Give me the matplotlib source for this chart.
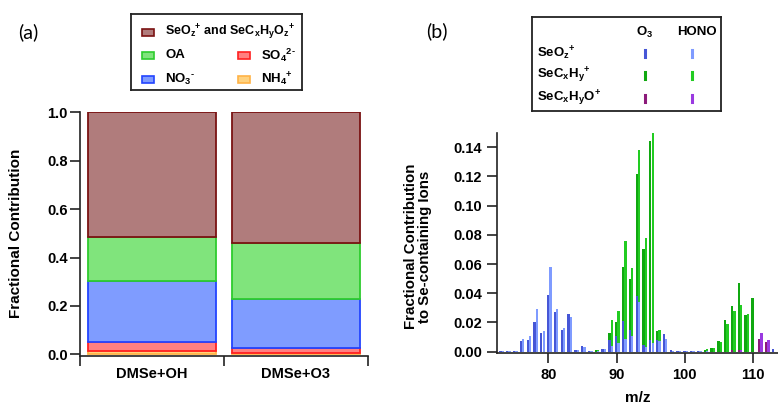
import numpy as np
import matplotlib
matplotlib.use("Agg")
import matplotlib.pyplot as plt
from matplotlib.patches import Rectangle
from matplotlib.lines import Line2D

plt.rcParams['font.family'] = ['Liberation Sans', 'DejaVu Sans']
plt.rcParams['font.weight'] = 'bold'
plt.rcParams['axes.labelweight'] = 'bold'
plt.rcParams['mathtext.fontset'] = 'custom'
plt.rcParams['mathtext.rm'] = 'Liberation Sans:bold'
plt.rcParams['mathtext.bf'] = 'Liberation Sans:bold'
plt.rcParams['mathtext.it'] = 'Liberation Sans:bold'
plt.rcParams['mathtext.default'] = 'bf'

# ---------------- Panel (a) data ----------------
categories = ["DMSe+OH", "DMSe+O3"]
nh4 = [0.015, 0.004]
so4 = [0.037, 0.022]
no3 = [0.251, 0.201]
oa = [0.182, 0.232]
se_org = [0.515, 0.541]

# ---------------- Panel (b) data ----------------
mz = list(range(73, 114))  # 73 ... 113
#            73      74      75      76     77     78     79     80     81     82     83     84      85     86      87     88      89     90     91     92     93     94      95     96     97     98     99      100     101     102     103  104  105  106  107  108  109  110  111  112  113
o3_seoz   = [0.0003, 0.0005, 0.0003, 0.007, 0.008, 0.020, 0.013, 0.039, 0.027, 0.015, 0.026, 0.0015, 0.004, 0.0003, 0.0,   0.0018, 0.008, 0.011, 0.021, 0.015, 0.038, 0.0045, 0.008, 0.008, 0.012, 0.001, 0.0003, 0.0003, 0.0003, 0.0003, 0.0, 0.0, 0.0, 0.0, 0.0, 0.0, 0.0, 0.0, 0.0, 0.0, 0.002]
o3_secxhy = [0.0,    0.0,    0.0,    0.0,   0.0,   0.0,   0.0,   0.0,   0.0,   0.0,   0.0,   0.0,    0.0,   0.0,    0.0015, 0.0,   0.005, 0.009, 0.037, 0.035, 0.084, 0.0655, 0.136, 0.006, 0.0,   0.0,   0.0,    0.0,    0.0,    0.0,    0.0015, 0.0025, 0.007, 0.022, 0.030, 0.0455, 0.025, 0.037, 0.0, 0.0, 0.0]
o3_secxhyo = [0.0,   0.0,    0.0,    0.0,   0.0,   0.0,   0.0,   0.0,   0.0,   0.0,   0.0,   0.0,    0.0,   0.0,    0.0,   0.0,    0.0,   0.0,   0.0,   0.0,   0.0,   0.0,    0.0,   0.0,   0.0,   0.0,   0.0,    0.0,    0.0,    0.0,    0.0, 0.0, 0.0, 0.0, 0.001, 0.0015, 0.0, 0.0, 0.0085, 0.0064, 0.0]
hono_seoz   = [0.0003, 0.0004, 0.0003, 0.009, 0.011, 0.029, 0.014, 0.058, 0.029, 0.016, 0.024, 0.0015, 0.003, 0.0003, 0.0003, 0.0018, 0.004, 0.006, 0.009, 0.011, 0.034, 0.003, 0.006, 0.007, 0.009, 0.0008, 0.0004, 0.0004, 0.0004, 0.0004, 0.0004, 0.0, 0.0, 0.0, 0.0, 0.0, 0.0, 0.0, 0.0, 0.0, 0.0]
hono_secxhy = [0.0,   0.0,    0.0,    0.0,   0.0,   0.0,   0.0,   0.0,   0.0,   0.0,   0.0,   0.0,    0.0,   0.0,    0.0012, 0.0,   0.018, 0.022, 0.067, 0.046, 0.104, 0.075, 0.144, 0.008, 0.0,   0.0,   0.0,    0.0,    0.0,    0.0,    0.0012, 0.0022, 0.0065, 0.019, 0.028, 0.031, 0.026, 0.0, 0.0, 0.0, 0.0]
hono_secxhyo = [0.0,  0.0,    0.0,    0.0,   0.0,   0.0,   0.0,   0.0,   0.0,   0.0,   0.0,   0.0,    0.0,   0.0,    0.0,   0.0,    0.0,   0.0,   0.0,   0.0,   0.0,   0.0,    0.0,   0.0,   0.0,   0.0,   0.0,    0.0,    0.0,    0.0,    0.0, 0.0, 0.0, 0.0, 0.0, 0.001, 0.0, 0.0, 0.013, 0.0082, 0.0]

# ---------------- colours ----------------
c_se_f, c_se_e = '#b07c7c', '#7a1212'
c_oa_f, c_oa_e = '#80e47c', '#2ecc2e'
c_no3_f, c_no3_e = '#7f9cff', '#2244ff'
c_so4_f, c_so4_e = '#ff8080', '#ff2020'
c_nh4_f, c_nh4_e = '#ffd27f', '#ffb347'

o3_cols = ['#4656d6', '#10a810', '#8c1a7a']
hono_cols = ['#7f9bff', '#22cc22', '#9a3ae0']

axis_col = '#222222'

fig = plt.figure(figsize=(7.78, 4.05), dpi=100)

# ================= Panel (a) =================
ax1 = fig.add_axes([80/778, 1-356/405, 288/778, (356-112.3)/405])
x = np.arange(len(categories))
w = 0.89
bottom = np.zeros(len(categories))
for vals, fc, ec in [(nh4, c_nh4_f, c_nh4_e), (so4, c_so4_f, c_so4_e),
                     (no3, c_no3_f, c_no3_e), (oa, c_oa_f, c_oa_e),
                     (se_org, c_se_f, c_se_e)]:
    ax1.bar(x, vals, w, bottom=bottom, facecolor=fc, edgecolor=ec, linewidth=1.3)
    bottom = bottom + np.array(vals)

ax1.set_xlim(-0.5, 1.5)
ax1.set_ylim(-0.007, 1.0)
ax1.set_yticks([0.0, 0.2, 0.4, 0.6, 0.8, 1.0])
ax1.set_yticklabels(['0.0', '0.2', '0.4', '0.6', '0.8', '1.0'])
ax1.set_xticks([-0.5, 0.5, 1.5])
ax1.set_xticklabels([])
ax1.set_xticks([0, 1], minor=True)
ax1.set_xticklabels(categories, minor=True)
ax1.tick_params(axis='x', which='minor', length=0, pad=8, labelsize=10.5)
ax1.tick_params(axis='both', which='major', direction='out', length=7, width=1.2,
                color=axis_col, labelsize=10.5, pad=2)
for s in ['top', 'right']:
    ax1.spines[s].set_visible(False)
for s in ['left', 'bottom']:
    ax1.spines[s].set_linewidth(1.2)
    ax1.spines[s].set_color(axis_col)
ax1.set_ylabel('Fractional Contribution', fontsize=11)
ax1.yaxis.set_label_coords((23-80)/288, 0.505)

# legend (a)
lg1 = fig.add_axes([131/778, 1-90/405, 171/778, 76/405])
lg1.set_xlim(0, 171); lg1.set_ylim(76, 0)
lg1.set_xticks([]); lg1.set_yticks([])
for s in lg1.spines.values():
    s.set_linewidth(1.3); s.set_color(axis_col)
lg_items = [
    (11, 18, c_se_f, c_se_e, r'SeO$_{z}$$^{+}$ and SeC$_{x}$H$_{y}$O$_{z}$$^{+}$', 9.0),
    (11, 41, c_oa_f, c_oa_e, 'OA', 9.5),
    (11, 65, c_no3_f, c_no3_e, r'NO$_{3}$$^{\text{-}}$', 9.5),
    (107, 41, c_so4_f, c_so4_e, r'SO$_{4}$$^{\text{2-}}$', 9.5),
    (107, 65, c_nh4_f, c_nh4_e, r'NH$_{4}$$^{+}$', 9.5),
]
for px, py, fc, ec, lab, fs in lg_items:
    lg1.add_patch(Rectangle((px, py-3.5), 12, 7, facecolor=fc, edgecolor=ec, linewidth=1.2))
    lg1.text(px+23, py, lab, fontsize=fs, va='center', ha='left')

# ================= Panel (b) =================
ax2 = fig.add_axes([496.7/778, 1-353.3/405, (778-496.7)/778, (353.3-132.7)/405])
m = np.array(mz, dtype=float)
bw = 0.34
for off, series, cols in [(-0.05, (o3_seoz, o3_secxhyo, o3_secxhy), o3_cols),
                          (0.30, (hono_seoz, hono_secxhyo, hono_secxhy), hono_cols)]:
    b = np.zeros(len(mz))
    for vals, col in zip(series, [cols[0], cols[2], cols[1]]):
        ax2.bar(m + off, vals, bw, bottom=b, color=col, linewidth=0)
        b = b + np.array(vals)

ax2.set_xlim(72.4, 113.7)
ax2.set_ylim(-0.0011, 0.150)
ax2.set_xticks([80, 90, 100, 110])
ax2.set_yticks([0.00, 0.02, 0.04, 0.06, 0.08, 0.10, 0.12, 0.14])
ax2.set_yticklabels(['0.00', '0.02', '0.04', '0.06', '0.08', '0.10', '0.12', '0.14'])
ax2.tick_params(axis='both', which='major', direction='out', length=7, width=1.2,
                color=axis_col, labelsize=10.5, pad=3.5)
for s in ['top', 'right']:
    ax2.spines[s].set_visible(False)
for s in ['left', 'bottom']:
    ax2.spines[s].set_linewidth(1.2)
    ax2.spines[s].set_color(axis_col)
ax2.set_ylabel('Fractional Contribution\nto Se-containing Ions', fontsize=10.8, linespacing=1.0)
ax2.yaxis.set_label_coords((432-496.7)/281.3, 0.483)
ax2.set_xlabel('m/z', fontsize=11)
ax2.xaxis.set_label_coords(0.5, (353.3-391)/220.6)

# legend (b)
lg2 = fig.add_axes([532/778, 1-111/405, 189/778, 94/405])
lg2.set_xlim(0, 189); lg2.set_ylim(94, 0)
lg2.set_xticks([]); lg2.set_yticks([])
for s in lg2.spines.values():
    s.set_linewidth(1.3); s.set_color(axis_col)
lg2.text(113, 15, r'O$_{3}$', fontsize=9.5, ha='center', va='center')
lg2.text(165, 15, 'HONO', fontsize=9.5, ha='center', va='center')
row_labels = [r'SeO$_{z}$$^{+}$', r'SeC$_{x}$H$_{y}$$^{+}$', r'SeC$_{x}$H$_{y}$O$^{+}$']
row_y = [36, 58, 81]
for i, (lab, yy) in enumerate(zip(row_labels, row_y)):
    lg2.text(5, yy, lab, fontsize=9.5, ha='left', va='center')
    lg2.add_line(Line2D([113, 113], [yy-3.5, yy+3.5], color=o3_cols[i], linewidth=2.2))
    lg2.add_line(Line2D([160, 160], [yy-3.5, yy+3.5], color=hono_cols[i], linewidth=2.2))

# panel labels
fig.text(18/778, 1-32/405, '(a)', fontsize=14, fontweight='normal', family=['Lato', 'DejaVu Sans'],
         ha='left', va='center')
fig.text(426/778, 1-31/405, '(b)', fontsize=14, fontweight='normal', family=['Lato', 'DejaVu Sans'],
         ha='left', va='center')

fig.savefig('out.png', dpi=100)
